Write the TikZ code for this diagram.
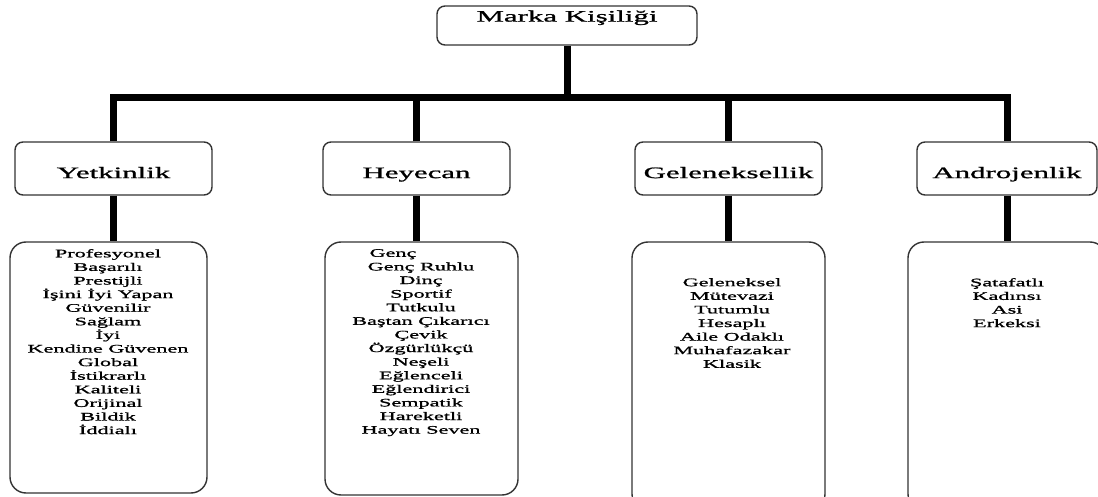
\documentclass[tikz,border=0pt]{standalone}
\usepackage{fontspec}
\setmainfont{Liberation Serif}
\newfontfamily\widefont{Liberation Serif}[FakeStretch=1.93,FakeBold=1.2]
\begin{document}
\begin{tikzpicture}[x=1pt,y=-1pt,
  headbox/.style={draw=black!80, line width=1.4pt, fill=white, rounded corners=8pt, inner sep=0pt,
    font=\widefont\fontsize{16}{19}\selectfont},
  listbox/.style={draw=black!80, line width=1.4pt, fill=white, rounded corners=16pt, inner sep=0pt},
  listtext/.style={anchor=north, inner sep=0pt, align=center,
    font=\widefont\fontsize{11.5}{13.6}\selectfont},
  conn/.style={line width=7pt, black}]
\useasboundingbox (0,0) rectangle (1098,497);
\clip (0,0) rectangle (1098,497);
\fill[white] (0,0) rectangle (1098,497);

% top
\node[headbox, minimum width=260pt, minimum height=39pt, text height=4pt, text depth=11.8pt] (marka) at (567,25.5) {Marka Kişiliği};

% headers
\node[headbox, minimum width=197pt, minimum height=53pt, text height=20pt, text depth=0.8pt] (yetH) at (113.5,168.5) {Yetkinlik};
\node[headbox, minimum width=187pt, minimum height=53pt, text height=20pt, text depth=0.8pt] (heyH) at (416.5,168.5) {Heyecan};
\node[headbox, minimum width=187pt, minimum height=53pt, text height=20pt, text depth=0.8pt] (gelH) at (728.5,168.5) {Geleneksellik};
\node[headbox, minimum width=180pt, minimum height=53pt, text height=20pt, text depth=0.8pt] (andH) at (1007,168.5) {Androjenlik};

% lists
\node[listbox, minimum width=197pt, minimum height=251pt] (yetL) at (108.5,367.5) {};
\node[listbox, minimum width=193pt, minimum height=253pt] (heyL) at (421.5,368.5) {};
\node[listbox, minimum width=193pt, minimum height=268pt] (gelL) at (728.5,376) {};
\node[listbox, minimum width=198pt, minimum height=268pt] (andL) at (1007,376) {};

\node[listtext] (yetT) at (108,249) {Profesyonel\\Başarılı\\Prestijli\\İşini İyi Yapan\\Güvenilir\\Sağlam\\İyi\\Kendine Güvenen\\Global\\İstikrarlı\\Kaliteli\\Orijinal\\Bildik\\İddialı};
\node[listtext] (heyT) at (421,249) {Genç\hspace*{56pt}\\Genç Ruhlu\\Dinç\\Sportif\\Tutkulu\\Baştan Çıkarıcı\\Çevik\\Özgürlükçü\\Neşeli\\Eğlenceli\\Eğlendirici\\Sempatik\\Hareketli\\Hayatı Seven};
\node[listtext] (gelT) at (732,278) {Geleneksel\\Mütevazi\\Tutumlu\\Hesaplı\\Aile Odaklı\\Muhafazakar\\Klasik};
\node[listtext] (andT) at (1007,278) {Şatafatlı\\Kadınsı\\Asi\\Erkeksi};

% connectors
\coordinate (bar) at (567,98);
\draw[conn] (yetH.north) |- (bar) -| (andH.north);
\draw[conn] (marka.south) -- (marka.south |- bar);
\draw[conn] (heyH.north) -- (heyH.north |- bar);
\draw[conn] (gelH.north) -- (gelH.north |- bar);
\draw[conn] (yetH.south) -- (yetH.south |- yetL.north);
\draw[conn] (heyH.south) -- (heyH.south |- heyL.north);
\draw[conn] (gelH.south) -- (gelH.south |- gelL.north);
\draw[conn] (andH.south) -- (andH.south |- andL.north);
\end{tikzpicture}
\end{document}
